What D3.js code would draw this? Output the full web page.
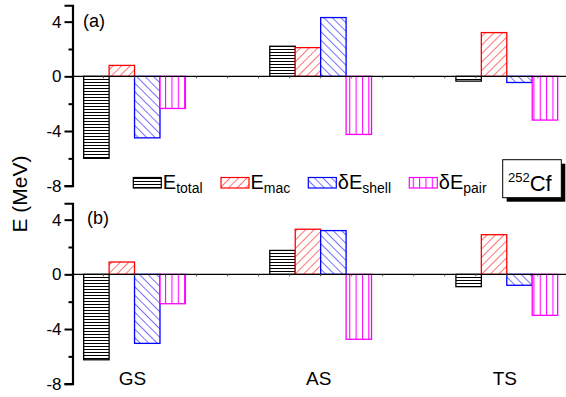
<!DOCTYPE html>
<html>
<head>
<meta charset="utf-8">
<script src="https://cdn.jsdelivr.net/npm/d3@7"></script>
<style>
    body { margin: 0; background: #fff; }
    svg { display: block; font-family: "Liberation Sans", Arial, sans-serif; }
</style>
</head>
<body>
<script>
(function(){

//categories and where they sit on the x axis
var categories = ["GS", "AS", "TS"];
var catPos = [2, 8, 14];

//series names, colours, legend labels
var seriesKeys = ["total", "mac", "shell", "pair"];
var seriesColors = ["#000000", "#ff0000", "#0000ff", "#ff00ff"];
var seriesPrefix = ["E", "E", "\u03b4E", "\u03b4E"];
var seriesSub = ["total", "mac", "shell", "pair"];

//panel (a) values (MeV)
var totalA = [-6.0, 2.2, -0.35];
var macA = [0.8, 2.1, 3.2];
var shellA = [-4.5, 4.3, -0.45];
var pairA = [-2.35, -4.25, -3.2];

//panel (b) values (MeV)
var totalB = [-6.25, 1.75, -0.9];
var macB = [0.9, 3.3, 2.9];
var shellB = [-5.05, 3.2, -0.8];
var pairB = [-2.15, -4.75, -3.0];

//y axis ticks
var majorTicks = [-8, -4, 0, 4];
var minorTicks = [-6, -2, 2];

var width = 566, height = 397;

var svg = d3.select("body")
    .append("svg")
    .attr("width", width)
    .attr("height", height);

var x = d3.scaleLinear()
    .domain([0, 16])
    .range([72.5, 72.5 + 16 * 31.02]);

var barW = 0.82; //bar width in x units

makePatterns(svg);

drawPanel([totalA, macA, shellA, pairA], 185.7, "(a)", 83, 27, false);
drawPanel([totalB, macB, shellB, pairB], 383.7, "(b)", 87, 224, true);

drawLegend();

//y axis title
svg.append("text")
    .attr("transform", "translate(27,194) rotate(-90)")
    .attr("text-anchor", "middle")
    .style("font-size", "21px")
    .text("E (MeV)");

function makePatterns(svg){
    var defs = svg.append("defs");

    //horizontal lines
    var p0 = defs.append("pattern")
        .attr("id", "pat-total")
        .attr("patternUnits", "userSpaceOnUse")
        .attr("width", 6).attr("height", 3);
    p0.append("rect").attr("width", 6).attr("height", 3).attr("fill", "#fff");
    p0.append("line")
        .attr("x1", 0).attr("x2", 6).attr("y1", 1.5).attr("y2", 1.5)
        .attr("stroke", "#000").attr("stroke-width", 1);

    //forward diagonal
    var p1 = defs.append("pattern")
        .attr("id", "pat-mac")
        .attr("patternUnits", "userSpaceOnUse")
        .attr("width", 6).attr("height", 6)
        .attr("patternTransform", "rotate(45)");
    p1.append("rect").attr("width", 6).attr("height", 6).attr("fill", "#fff");
    p1.append("line")
        .attr("x1", 0).attr("x2", 0).attr("y1", 0).attr("y2", 6)
        .attr("stroke", "#ff0000").attr("stroke-width", 1.1);

    //back diagonal
    var p2 = defs.append("pattern")
        .attr("id", "pat-shell")
        .attr("patternUnits", "userSpaceOnUse")
        .attr("width", 6).attr("height", 6)
        .attr("patternTransform", "rotate(-45)");
    p2.append("rect").attr("width", 6).attr("height", 6).attr("fill", "#fff");
    p2.append("line")
        .attr("x1", 0).attr("x2", 0).attr("y1", 0).attr("y2", 6)
        .attr("stroke", "#0000ff").attr("stroke-width", 1.1);

    //vertical lines
    var p3 = defs.append("pattern")
        .attr("id", "pat-pair")
        .attr("patternUnits", "userSpaceOnUse")
        .attr("width", 6.35).attr("height", 6);
    p3.append("rect").attr("width", 6.35).attr("height", 6).attr("fill", "#fff");
    p3.append("line")
        .attr("x1", 0.5).attr("x2", 0.5).attr("y1", 0).attr("y2", 6)
        .attr("stroke", "#ff00ff").attr("stroke-width", 1.1);
};

function drawPanel(seriesVals, bottomY, label, lx, ly, showCats){
    var y = d3.scaleLinear()
        .domain([-8, 5.2])
        .range([bottomY, bottomY - 13.2 * 13.67]);

    var g = svg.append("g");

    //bars, one group per series
    seriesVals.forEach(function(vals, s){
        g.selectAll(".bar" + s)
            .data(vals)
            .enter()
            .append("rect")
            .attr("x", function(d, i){ return x(catPos[i] - 2 * barW + s * barW); })
            .attr("width", x(barW) - x(0))
            .attr("y", function(d){ return y(Math.max(0, d)); })
            .attr("height", function(d){ return Math.abs(y(d) - y(0)); })
            .attr("fill", "url(#pat-" + seriesKeys[s] + ")")
            .attr("stroke", seriesColors[s])
            .attr("stroke-width", 1.3);
    });

    //zero line with small ticks
    g.append("line")
        .attr("x1", x(0)).attr("x2", width)
        .attr("y1", y(0)).attr("y2", y(0))
        .attr("stroke", "#000").attr("stroke-width", 1.2);
    g.selectAll(".ztick")
        .data(d3.range(1, 17))
        .enter()
        .append("line")
        .attr("x1", function(d){ return x(d); })
        .attr("x2", function(d){ return x(d); })
        .attr("y1", y(0)).attr("y2", y(0) + 2)
        .attr("stroke", "#555").attr("stroke-width", 1);

    //y axis
    var axis = d3.axisLeft(y)
        .tickValues(majorTicks)
        .tickSize(8)
        .tickPadding(3)
        .tickFormat(function(d){ return d < 0 ? "-" + Math.abs(d) : d; });
    var ax = g.append("g")
        .attr("transform", "translate(" + x(0) + ",0)")
        .call(axis);
    ax.select(".domain").attr("stroke-width", 2.2);
    ax.selectAll(".tick line").attr("stroke-width", 2);
    ax.selectAll("text")
        .style("font-size", "17px")
        .style("font-family", "Liberation Sans, Arial, sans-serif")
        .attr("fill", "#000");

    var minor = d3.axisLeft(y)
        .tickValues(minorTicks)
        .tickSize(4)
        .tickFormat("");
    var mx = g.append("g")
        .attr("transform", "translate(" + x(0) + ",0)")
        .call(minor);
    mx.select(".domain").remove();
    mx.selectAll(".tick line").attr("stroke-width", 2);

    //panel label
    g.append("text")
        .attr("x", lx).attr("y", ly)
        .style("font-size", "18px")
        .text(label);

    //category labels
    if (showCats){
        g.selectAll(".cat")
            .data(categories)
            .enter()
            .append("text")
            .attr("x", function(d, i){ return x(catPos[i]) - 2; })
            .attr("y", 384.5)
            .attr("text-anchor", "middle")
            .style("font-size", "19px")
            .text(function(d){ return d; });
    };
};

function drawLegend(){
    var swX = [133.3, 221, 308.3, 409.3];
    var lg = svg.append("g");

    seriesKeys.forEach(function(k, s){
        lg.append("rect")
            .attr("x", swX[s]).attr("y", 177.5)
            .attr("width", 28).attr("height", 10.5)
            .attr("fill", "url(#pat-" + k + ")")
            .attr("stroke", seriesColors[s])
            .attr("stroke-width", 1.2);

        var t = lg.append("text")
            .attr("x", swX[s] + 29.5).attr("y", 188.5)
            .style("font-size", "20px");
        t.append("tspan").text(seriesPrefix[s]);
        t.append("tspan")
            .attr("dy", 4)
            .style("font-size", "14px")
            .text(seriesSub[s]);
    });

    //nucleus box with shadow
    lg.append("rect")
        .attr("x", 506.7).attr("y", 163.7)
        .attr("width", 58.6).attr("height", 38)
        .attr("fill", "#000");
    lg.append("rect")
        .attr("x", 502.7).attr("y", 159.7)
        .attr("width", 58.6).attr("height", 38)
        .attr("fill", "#fff")
        .attr("stroke", "#000").attr("stroke-width", 1);
    var c = lg.append("text")
        .attr("x", 508).attr("y", 191)
        .style("font-size", "22px");
    c.append("tspan")
        .attr("dy", -9)
        .style("font-size", "13px")
        .text("252");
    c.append("tspan")
        .attr("dy", 9)
        .text("Cf");
};

})();
</script>
</body>
</html>
